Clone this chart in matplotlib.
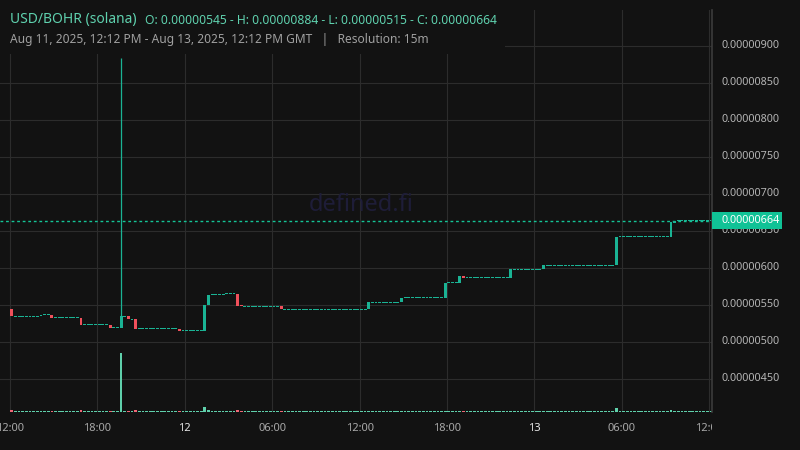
import matplotlib
matplotlib.use("Agg")
import matplotlib.pyplot as plt
import matplotlib.transforms as mtransforms
from matplotlib.patches import Rectangle
import numpy as np

plt.rcParams['font.family'] = ['Noto Sans', 'DejaVu Sans']

BG = '#121212'
UP = '#1ab394'
DOWN = '#f0505b'
VOL_UP = '#5fd0ab'
VOL_DOWN = '#ee6675'
GRID = '#2c2c2c'

# 15m candles from Aug 11 12:00 to Aug 13 12:00 (GMT)
n_candles = 193
# candles where price moved; the rest are flat (no trades, price unchanged)
move_idx = [0, 8, 11, 19, 27, 30, 32, 34, 46, 53, 54, 58, 62, 63, 74,
            98, 107, 119, 123, 124, 137, 146, 166, 181, 182]
# prices in units of 1e-8 USD
move_open = [545, 535, 537, 533, 523, 519, 535, 531, 518, 515, 550, 564, 565, 550, 548,
             544, 554, 560, 580, 589, 587, 598, 604, 642, 661]
move_close = [535, 537, 533, 523, 519, 535, 531, 518, 515, 550, 564, 565, 549, 548, 544,
              554, 560, 580, 589, 587, 598, 604, 642, 662, 664]
wick_idx = [30]
wick_high = [884]

# volume (relative units)
vol_idx = [0, 19, 30, 32, 34, 53, 54, 62, 166, 181]
vol_val = [2, 2, 59, 1, 2, 5, 2, 2, 4, 2]

x_ticks = [-0.5 + 24 * k for k in range(9)]
x_labels = ['12:00', '18:00', '12', '06:00', '12:00', '18:00', '13', '06:00', '12:00']
price_ticks = [450, 500, 550, 600, 650, 700, 750, 800, 850, 900]

# build the OHLC table
opens = np.zeros(n_candles)
closes = np.zeros(n_candles)
last = move_open[0]
moves = dict(zip(move_idx, zip(move_open, move_close)))
for i in range(n_candles):
    if i in moves:
        o, c = moves[i]
    else:
        o = c = last
    opens[i], closes[i] = o, c
    last = c
highs = np.maximum(opens, closes)
lows = np.minimum(opens, closes)
for i, h in zip(wick_idx, wick_high):
    highs[i] = h
opens, closes, highs, lows = opens * 1e-8, closes * 1e-8, highs * 1e-8, lows * 1e-8
vols = np.zeros(n_candles)
vols[vol_idx] = vol_val

idx = np.arange(n_candles)
up = closes >= opens
colors = np.where(up, UP, DOWN)

fig = plt.figure(figsize=(8, 4.5), dpi=100, facecolor=BG)
ax = fig.add_axes([0, 38 / 450, 712 / 800, 402 / 450])
ax.set_facecolor(BG)
ax.set_xlim(-3.25, 192.27)
ax.set_ylim(405.4e-8, 948.6e-8)
for s in ax.spines.values():
    s.set_visible(False)

ax.set_yticks([p * 1e-8 for p in price_ticks])
ax.set_yticklabels([])
ax.set_xticks(x_ticks)
ax.set_xticklabels(x_labels)
ax.tick_params(axis='both', length=0, colors='#a8a8a8', labelsize=8, pad=8)
for lab in ax.get_xticklabels():
    if len(lab.get_text()) == 2:
        lab.set_fontweight('bold')
        lab.set_color('#e6e6e6')
ax.grid(True, color=GRID, lw=0.8, zorder=0)
ax.set_axisbelow(True)

ax.text(0.507, 0.515, 'defined.fi', transform=ax.transAxes, color='#1e1d38',
        fontsize=17, ha='center', va='center', zorder=1)

# candles
min_h = 1.3e-8
body_h = np.abs(closes - opens)
flat = body_h < min_h
bottoms = np.where(flat, lows - min_h / 2, lows)
heights = np.where(flat, min_h, body_h)
has_wick = highs > np.maximum(opens, closes)
ax.vlines(idx[has_wick], np.maximum(opens, closes)[has_wick], highs[has_wick],
          color=UP, lw=0.9, zorder=3)
ax.bar(idx, heights, bottom=bottoms, width=0.8, color=colors, linewidth=0, zorder=4)

ax.axhline(closes[-1], color='#14c496', lw=1, ls=(0, (2, 2)), zorder=2)

# volume
vax = ax.twinx()
vax.set_ylim(0, max(vol_val) * 6.8)
vax.set_axis_off()
vcol = np.where(up, VOL_UP, VOL_DOWN)
vax.bar(idx, np.maximum(vols, max(vol_val) * 0.02), width=0.75, color=vcol, linewidth=0)

# header background
fig.patches.append(Rectangle((0, 1 - 54 / 450), 505 / 800, 54 / 450,
                             transform=fig.transFigure, fc=BG, ec='none', zorder=1))
fig.text(10 / 800, 1 - 20 / 450, 'USD/BOHR (solana)', color='#5fd1ae', fontsize=10,
         va='center', zorder=2)
ohlc = 'O: %.8f - H: %.8f - L: %.8f - C: %.8f' % (opens[0], highs.max(), lows.min(), closes[-1])
fig.text(145 / 800, 1 - 20 / 450, ohlc, color='#5fd1ae', fontsize=8.7, va='center', zorder=2)
fig.text(10 / 800, 1 - 40 / 450,
         'Aug 11, 2025, 12:12 PM - Aug 13, 2025, 12:12 PM GMT   |   Resolution: 15m',
         color='#a0a0a0', fontsize=8.6, va='center', zorder=2)

# price scale panel
pax = fig.add_axes([712 / 800, 0, 88 / 800, 1], zorder=3)
pax.set_facecolor(BG)
pax.set_xlim(0, 1)
pax.set_xticks([])
pax.set_yticks([])
for s in pax.spines.values():
    s.set_visible(False)
trans = mtransforms.blended_transform_factory(pax.transAxes, ax.transData)
pax.plot([0, 0], [0, 1], color='#3c3c3c', lw=1.2,
         transform=mtransforms.blended_transform_factory(pax.transAxes, ax.transAxes),
         clip_on=False)
for p in price_ticks:
    pax.text(10 / 88, p * 1e-8, '%.8f' % (p * 1e-8), transform=trans, color='#b4b4b4',
             fontsize=7.8, va='center', ha='left')
box_h = 23e-8
pax.add_patch(Rectangle((0, closes[-1] - box_h / 2), 70 / 88, box_h, transform=trans,
                        fc='#10c296', ec='none', zorder=3))
pax.text(10 / 88, closes[-1], '%.8f' % closes[-1], transform=trans, color='white',
         fontsize=7.8, va='center', ha='left', zorder=4)

fig.savefig('out.png', dpi=100, facecolor=BG)
